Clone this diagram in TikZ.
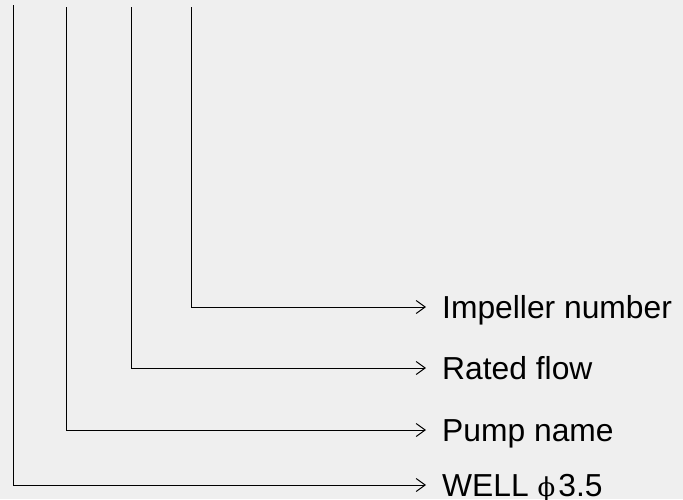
\documentclass[tikz,border=0pt]{standalone}
\usepackage{fontspec}
\setmainfont{Liberation Sans}
\newfontfamily\grkfont{DejaVu Serif}
\usepackage{xcolor}
\usetikzlibrary{arrows.meta}
\definecolor{bgGray}{HTML}{EFEFEF}

\begin{document}
\begin{tikzpicture}[x=1pt,y=-1pt,>={Straight Barb[length=9pt,width=13pt]},
  font=\fontsize{31.8}{36}\selectfont]
\tikzset{lbl/.style={anchor=west,inner xsep=0pt,inner ysep=0pt,text height=22.5pt,text depth=0pt},
  lead/.style={draw=black,line width=1pt,->}}
\fill[bgGray] (0,0) rectangle (683,499);
\useasboundingbox (0,0) rectangle (683,499);
% top ends of the leads
\coordinate (wTop) at (13.7,5);
\coordinate (pTop) at (66.5,7);
\coordinate (rTop) at (131,7);
\coordinate (iTop) at (191.7,7);
% labels
\node[lbl] (imp) at (442,307) {Impeller number};
\node[lbl] (rate) at (442,368) {Rated flow};
\node[lbl] (pump) at (442,430) {Pump name};
\node[lbl] (well) at (442,485) {WELL {\grkfont\fontsize{26}{30}\selectfont ϕ}\hspace{3pt}3.5};
% arrow ends
\coordinate (impEnd) at (426,307);
\coordinate (rateEnd) at (426,368);
\coordinate (pumpEnd) at (426,430);
\coordinate (wellEnd) at (426,485);
\draw[lead] (iTop) |- (impEnd);
\draw[lead] (rTop) |- (rateEnd);
\draw[lead] (pTop) |- (pumpEnd);
\draw[lead] (wTop) |- (wellEnd);
\end{tikzpicture}
\end{document}
